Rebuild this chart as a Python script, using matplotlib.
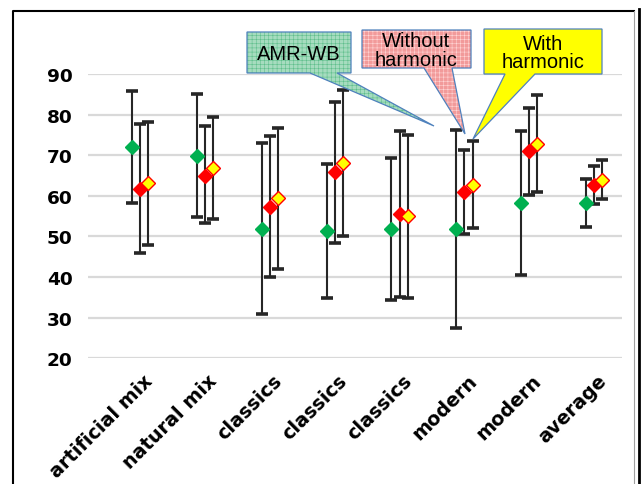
import matplotlib.pyplot as plt
import numpy as np
from matplotlib.patches import Polygon
from matplotlib.lines import Line2D

categories = ["artificial mix", "natural mix", "classics", "classics",
              "classics", "modern", "modern", "average"]

# AMR-WB
amr_mean = [72.0, 69.8, 51.9, 51.3, 51.8, 51.8, 58.3, 58.2]
amr_low = [58.2, 54.7, 31.0, 34.8, 34.3, 27.5, 40.5, 52.3]
amr_high = [85.9, 85.0, 72.9, 67.8, 69.3, 76.1, 76.0, 64.1]

# without harmonic
woh_mean = [61.7, 65.0, 57.3, 65.8, 55.5, 60.9, 71.0, 62.6]
woh_low = [45.9, 53.2, 40.0, 48.5, 35.1, 50.5, 60.3, 57.9]
woh_high = [77.7, 77.1, 74.8, 83.1, 76.0, 71.4, 81.6, 67.3]

# with harmonic
wh_mean = [63.1, 66.8, 59.4, 68.0, 55.0, 62.7, 72.8, 64.0]
wh_low = [47.9, 54.3, 42.1, 50.0, 34.8, 52.0, 60.9, 59.2]
wh_high = [78.3, 79.3, 76.7, 86.0, 75.1, 73.5, 84.8, 68.8]

W, H = 641, 485
fig = plt.figure(figsize=(W / 100, H / 100), dpi=100)
ax = fig.add_axes([88 / W, 1 - 359.3 / H, 534 / W, 284.3 / H])

x = np.arange(len(categories))
series = [
    (amr_mean, amr_low, amr_high, -0.125, "#00b050", "#00b050"),
    (woh_mean, woh_low, woh_high, 0.0, "#ff0000", "#ff0000"),
    (wh_mean, wh_low, wh_high, 0.125, "#ffff00", "#ff0000"),
]
for mean, low, high, off, fc, ec in series:
    mean = np.array(mean)
    yerr = [mean - np.array(low), np.array(high) - mean]
    ax.errorbar(x + off, mean, yerr=yerr, fmt="none", ecolor="#262626",
                elinewidth=1.5, capsize=4.5, capthick=2.6, zorder=3,
                clip_on=False)
    ax.plot(x + off, mean, ls="none", marker="D", ms=7, mfc=fc, mec=ec,
            mew=1.0, zorder=4, clip_on=False)

ax.set_xlim(-0.801, 7.427)
ax.set_ylim(20, 90)
ax.set_yticks(np.arange(20, 91, 10))
ax.grid(axis="y", color="#d9d9d9", lw=1.6)
ax.set_axisbelow(True)
for s in ax.spines.values():
    s.set_visible(False)
ax.tick_params(length=0)
ax.tick_params(axis="y", pad=11)
for lab in ax.get_yticklabels():
    lab.set_fontweight("bold")
    lab.set_fontsize(13.3)
    lab.set_family("DejaVu Sans")
ax.set_xticks(x + 0.04)
ax.set_xticklabels(categories, rotation=45, ha="right", va="top",
                   rotation_mode="anchor", fontsize=13.8, fontweight="bold")
ax.tick_params(axis="x", pad=9)


def fx(px):
    return px / W


def fy(py):
    return 1 - py / H


def callout(box, base, tip, face, dots, text):
    x0, y0, x1, y1 = box
    pts = [(x0, y0), (x1, y0), (x1, y1), (base[1], y1), tip,
           (base[0], y1), (x0, y1)]
    pts = [(fx(a), fy(b)) for a, b in pts]
    fig.patches.append(Polygon(pts, closed=True, transform=fig.transFigure,
                               facecolor=face, edgecolor="none", zorder=5))
    if dots:
        fig.patches.append(Polygon(pts, closed=True, transform=fig.transFigure,
                                   facecolor="none", edgecolor=dots, lw=0,
                                   hatch="++++", zorder=6))
    fig.patches.append(Polygon(pts, closed=True, transform=fig.transFigure,
                               facecolor="none", edgecolor="#4f81bd", lw=0.9,
                               zorder=7))
    fig.text(fx((x0 + x1) / 2), fy((y0 + y1) / 2 + 1), text, ha="center",
             va="center", fontsize=14.5, family="Liberation Sans",
             linespacing=0.95, zorder=8)


plt.rcParams["hatch.linewidth"] = 0.4
callout((247, 33, 351, 74), (310, 337), (434, 127), "#a6dcbf", "#5fbf8c",
        "AMR-WB")
callout((362, 31, 471, 69), (424, 452), (465, 135), "#f29a9a", "#ffd6d6",
        "Without\nharmonic")
callout((484, 30, 602, 75), (505, 535), (473, 140), "#ffff00", None,
        "With\nharmonic")

# frame around the chart
fig.lines.append(Line2D([fx(13), fx(13), fx(634)], [0, fy(12), fy(12)],
                        transform=fig.transFigure, color="black", lw=1.5))
fig.lines.append(Line2D([fx(634), fx(634)], [0, fy(12)],
                        transform=fig.transFigure, color="#a0a0a0", lw=0.8))
fig.lines.append(Line2D([fx(638.5), fx(638.5)], [0, fy(10)],
                        transform=fig.transFigure, color="black", lw=2))

fig.savefig("out.png", dpi=100)
